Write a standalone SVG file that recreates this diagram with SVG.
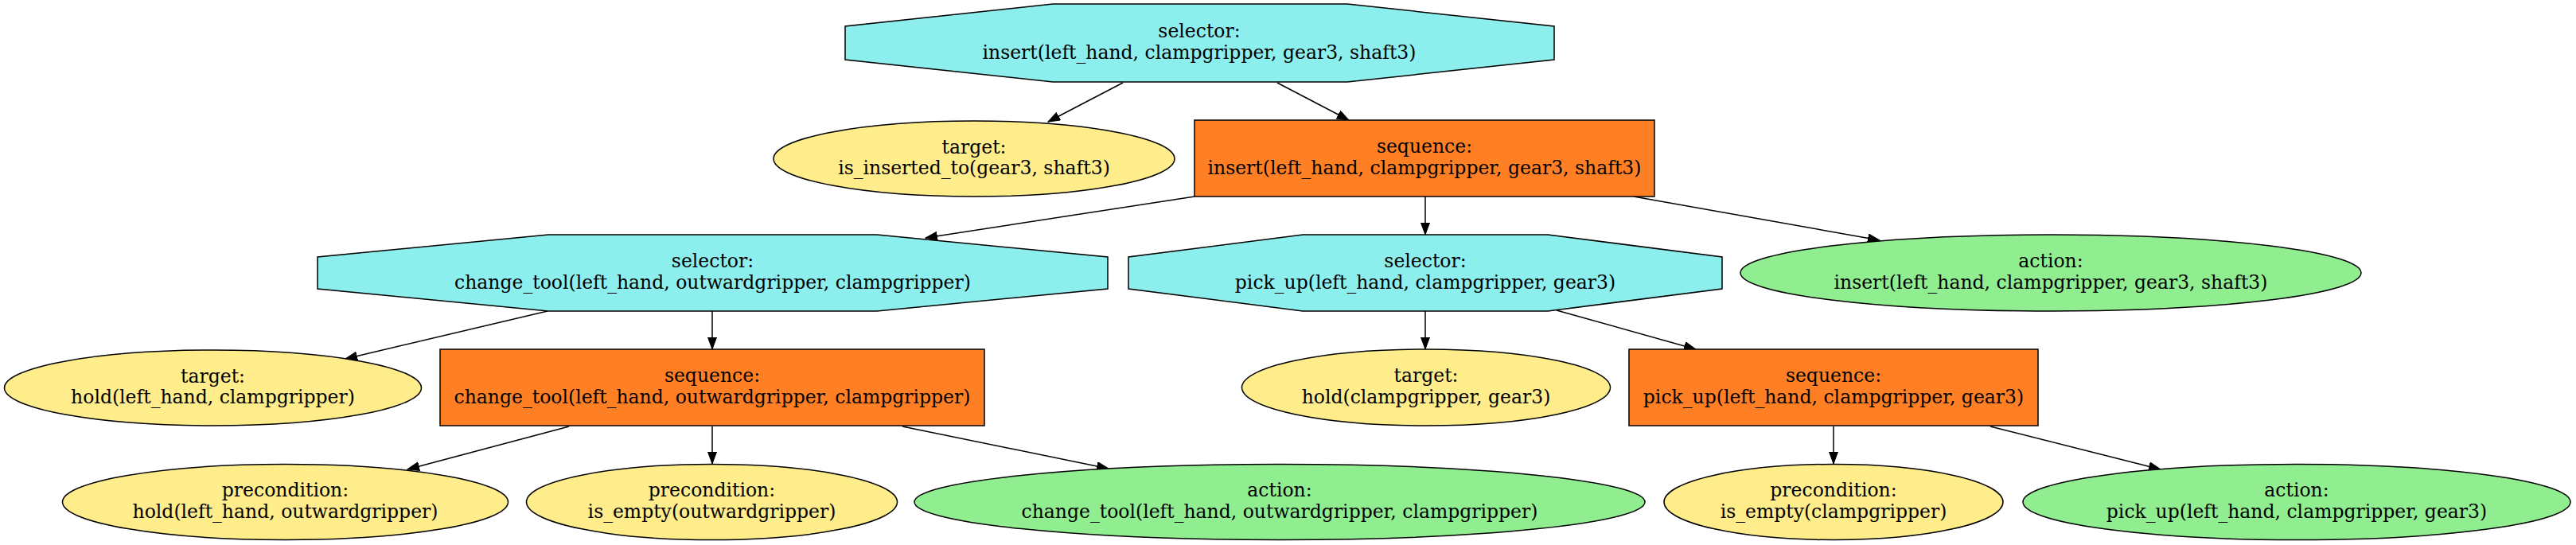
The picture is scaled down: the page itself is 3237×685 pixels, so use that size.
<svg xmlns="http://www.w3.org/2000/svg" width="3237" height="685" viewBox="0 0 3237 685">
<style>
.n{stroke:#000;stroke-width:1.5}
.sel{fill:#8DEEEE}
.seq{fill:#FF7F24}
.tgt{fill:#FFEC8B}
.act{fill:#90EE90}
text{font-family:"DejaVu Serif",serif;font-size:23.5px;text-anchor:middle;fill:#000}
.e{stroke:#000;stroke-width:1.5;fill:none;marker-end:url(#ah)}
</style>
<defs>
<marker id="ah" markerUnits="userSpaceOnUse" markerWidth="16" markerHeight="12" refX="15" refY="5.5" orient="auto">
<path d="M0,0 L15,5.5 L0,11 Z" fill="#000" stroke="#000" stroke-width="1"/>
</marker>
</defs>
<rect width="3237" height="685" fill="#fff"/>
<g id="edges">
<line class="e" x1="1411" y1="104" x2="1317" y2="153"/>
<line class="e" x1="1605" y1="104" x2="1695" y2="151"/>
<line class="e" x1="1501" y1="247" x2="1163" y2="299"/>
<line class="e" x1="1791" y1="247" x2="1791" y2="295"/>
<line class="e" x1="2053" y1="247" x2="2362" y2="302"/>
<line class="e" x1="688" y1="391" x2="434" y2="451"/>
<line class="e" x1="895" y1="391" x2="895" y2="439"/>
<line class="e" x1="1956" y1="390" x2="2131" y2="439"/>
<line class="e" x1="1791" y1="391" x2="1791" y2="439"/>
<line class="e" x1="715" y1="536" x2="512" y2="590"/>
<line class="e" x1="895" y1="536" x2="895" y2="583"/>
<line class="e" x1="1134" y1="536" x2="1393" y2="589"/>
<line class="e" x1="2304" y1="536" x2="2304" y2="583"/>
<line class="e" x1="2501" y1="536" x2="2715" y2="590"/>
</g>
<g id="sel_insert">
<polygon class="n sel" points="1323,5 1693,5 1953,33 1953,75 1693,103 1323,103 1062,75 1062,33"/>
<text x="1507" y="47">selector:</text>
<text x="1507" y="73.5">insert(left_hand, clampgripper, gear3, shaft3)</text>
</g>
<g id="tgt_is_inserted">
<ellipse class="n tgt" cx="1224" cy="199.5" rx="252" ry="47.5"/>
<text x="1224" y="192.5">target:</text>
<text x="1224" y="219">is_inserted_to(gear3, shaft3)</text>
</g>
<g id="seq_insert">
<rect class="n seq" x="1501" y="151" width="578" height="96"/>
<text x="1790" y="192">sequence:</text>
<text x="1790" y="218.5">insert(left_hand, clampgripper, gear3, shaft3)</text>
</g>
<g id="sel_change_tool">
<polygon class="n sel" points="689,295 1102,295 1392,323 1392,363 1102,391 689,391 399,363 399,323"/>
<text x="895.5" y="336">selector:</text>
<text x="895.5" y="362.5">change_tool(left_hand, outwardgripper, clampgripper)</text>
</g>
<g id="sel_pick_up">
<polygon class="n sel" points="1637,295 1945,295 2164,323 2164,363 1945,391 1637,391 1418,363 1418,323"/>
<text x="1791" y="336">selector:</text>
<text x="1791" y="362.5">pick_up(left_hand, clampgripper, gear3)</text>
</g>
<g id="act_insert">
<ellipse class="n act" cx="2577" cy="343" rx="390" ry="48"/>
<text x="2577" y="336">action:</text>
<text x="2577" y="362.5">insert(left_hand, clampgripper, gear3, shaft3)</text>
</g>
<g id="tgt_hold_left_clamp">
<ellipse class="n tgt" cx="267.5" cy="487.5" rx="262" ry="47.5"/>
<text x="267.5" y="480.5">target:</text>
<text x="267.5" y="507">hold(left_hand, clampgripper)</text>
</g>
<g id="seq_change_tool">
<rect class="n seq" x="553" y="439" width="684" height="96"/>
<text x="895" y="480">sequence:</text>
<text x="895" y="506.5">change_tool(left_hand, outwardgripper, clampgripper)</text>
</g>
<g id="tgt_hold_clamp_gear">
<ellipse class="n tgt" cx="1792" cy="487" rx="231.5" ry="48"/>
<text x="1792" y="480">target:</text>
<text x="1792" y="506.5">hold(clampgripper, gear3)</text>
</g>
<g id="seq_pick_up">
<rect class="n seq" x="2047" y="439" width="514" height="96"/>
<text x="2304" y="480">sequence:</text>
<text x="2304" y="506.5">pick_up(left_hand, clampgripper, gear3)</text>
</g>
<g id="pre_hold_outward">
<ellipse class="n tgt" cx="358.5" cy="631" rx="280" ry="47.5"/>
<text x="358.5" y="624">precondition:</text>
<text x="358.5" y="650.5">hold(left_hand, outwardgripper)</text>
</g>
<g id="pre_is_empty_outward">
<ellipse class="n tgt" cx="894.5" cy="631" rx="233" ry="47.5"/>
<text x="894.5" y="624">precondition:</text>
<text x="894.5" y="650.5">is_empty(outwardgripper)</text>
</g>
<g id="act_change_tool">
<ellipse class="n act" cx="1608" cy="631" rx="459" ry="47.5"/>
<text x="1608" y="624">action:</text>
<text x="1608" y="650.5">change_tool(left_hand, outwardgripper, clampgripper)</text>
</g>
<g id="pre_is_empty_clamp">
<ellipse class="n tgt" cx="2304" cy="631" rx="213" ry="47.5"/>
<text x="2304" y="624">precondition:</text>
<text x="2304" y="650.5">is_empty(clampgripper)</text>
</g>
<g id="act_pick_up">
<ellipse class="n act" cx="2886" cy="631" rx="344" ry="47.5"/>
<text x="2886" y="624">action:</text>
<text x="2886" y="650.5">pick_up(left_hand, clampgripper, gear3)</text>
</g>
</svg>
